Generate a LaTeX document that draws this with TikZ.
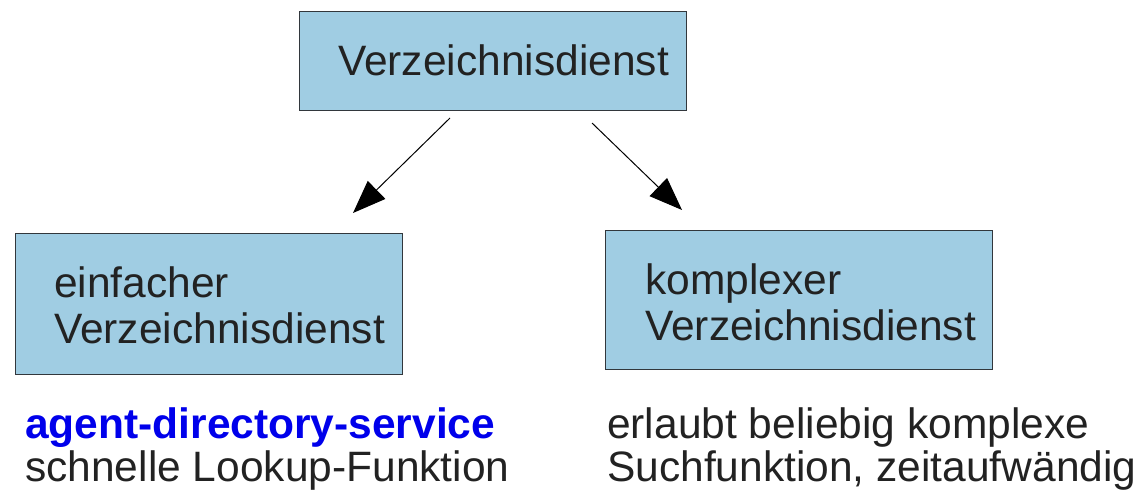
\documentclass[tikz,border=0pt]{standalone}
\usepackage{fontspec}
\setmainfont{Liberation Sans}
\usetikzlibrary{arrows.meta}
\definecolor{boxfill}{RGB}{160,205,227}
\definecolor{boxline}{RGB}{50,55,60}
\definecolor{inktext}{RGB}{34,34,34}
\definecolor{linkblue}{RGB}{0,0,235}
\tikzset{
  svcbox/.style={draw=boxline, line width=1.3pt, fill=boxfill, inner sep=0pt, anchor=north west},
  lbl/.style={font=\fontsize{42.5}{46}\selectfont, text=inktext, inner sep=0pt, anchor=base west, align=left},
  conn/.style={line width=1pt, -{Triangle[length=33pt, width=25pt]}}
}
\begin{document}
\begin{tikzpicture}[x=1pt, y=-1pt]
  \useasboundingbox (0,0) rectangle (1139,493);

  % boxes
  \node[svcbox, minimum width=387pt, minimum height=99pt] (root) at (298.5,11) {};
  \node[svcbox, minimum width=387pt, minimum height=141pt] (simple) at (14.5,233) {};
  \node[svcbox, minimum width=387pt, minimum height=139pt] (complex) at (605,229.5) {};

  % box captions (base anchor sits on the last line)
  \node[lbl] (rootlbl) at (338,75) {Verzeichnisdienst};
  \node[lbl] (simplelbl) at (54,343) {einfacher\\Verzeichnisdienst};
  \node[lbl] (complexlbl) at (645,340) {komplexer\\Verzeichnisdienst};

  % connectors
  \coordinate (ls) at (450,118);
  \coordinate (le) at (353,213);
  \coordinate (rs) at (592,123);
  \coordinate (re) at (682,210);
  \draw[conn] (ls) -- (le);
  \draw[conn] (rs) -- (re);

  % descriptions below the boxes
  \node[lbl, text=linkblue, font=\fontsize{42.5}{46}\selectfont\bfseries] (adsname) at (25,438) {agent-directory-service};
  \node[lbl] (adsdesc) at (25,481) {schnelle Lookup-Funktion};
  \node[lbl, font=\fontsize{42.5}{43}\selectfont] (cplxdesc) at (607,481) {erlaubt beliebig komplexe\\Suchfunktion, zeitaufwändig};
\end{tikzpicture}
\end{document}
